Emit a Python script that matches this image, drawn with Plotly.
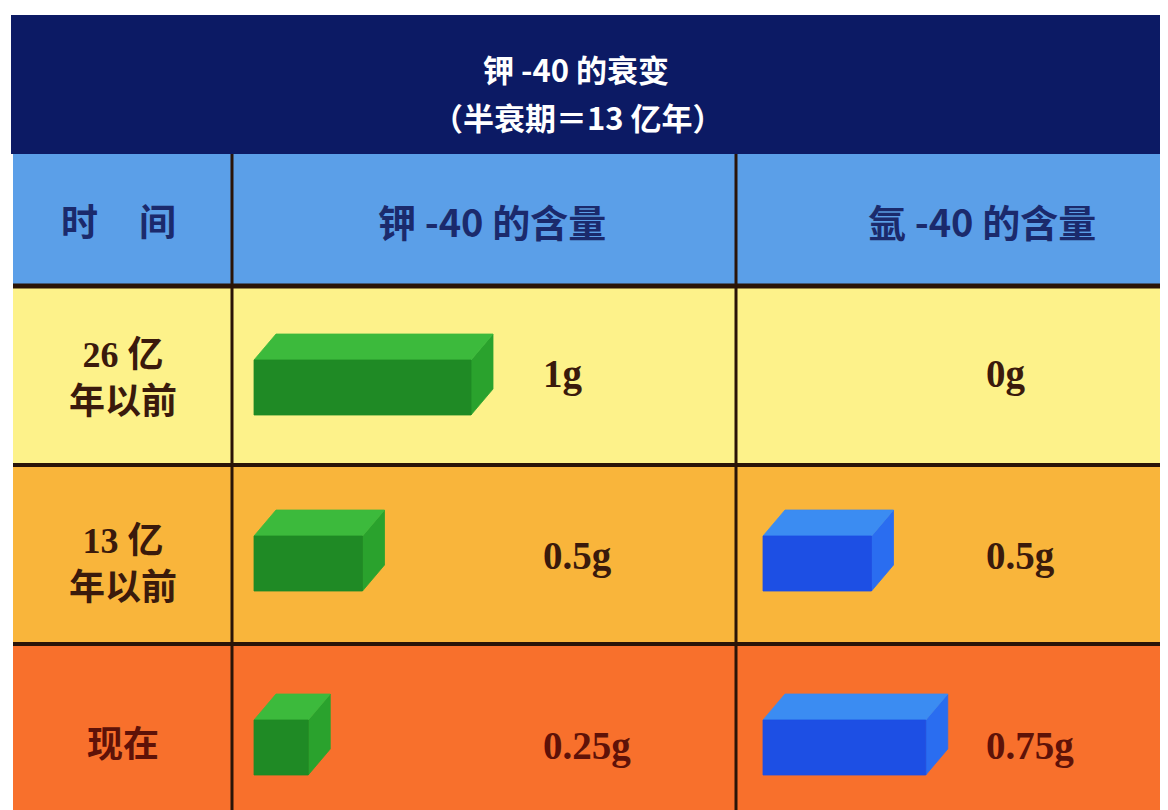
import plotly.graph_objects as go

# ---------------- data ----------------
time_labels = ["26 亿<br>年以前", "13 亿<br>年以前", "现在"]
potassium_g = [1, 0.5, 0.25]
argon_g = [0, 0.5, 0.75]
title_lines = ["钾 -40 的衰变", "（半衰期＝13 亿年）"]
col_headers = ["钾 -40 的含量", "氩 -40 的含量"]
time_header = ["时", "间"]

# ---------------- layout constants (pixel space of the picture) ----------------
W, H = 1168, 810
OFF = 8  # page body margin
X_LEFT = 13
X_COL1 = 232
X_COL2 = 736
TITLE_TOP, TITLE_BOT = 15, 154
HEAD_BOT = 285
ROW_BOUNDS = [(287, 464), (466, 643), (645, 812)]
ROW_COLORS = ["#fdf28a", "#f9b53b", "#f8702c"]
LINE_COL = "#2a1408"

PX_PER_GRAM = 217
BLOCK_H = 55
DX, DY = 22, 26
K_X0 = 254
AR_X0 = 763
BLOCK_BOTTOM = [415, 591, 775]
ROW_TEXT_Y = [378, 564, 745]
VAL_Y = [374, 556, 746]
K_LABEL_X = 541
AR_LABEL_X = 984

GREEN = dict(front="#1f8a25", top="#3cba3c", side="#2aa22d")
BLUE = dict(front="#1d4fe4", top="#3b8cf2", side="#2a6df0")
TEXT_COLS = ["#3a1a0c", "#3a1a0c", "#5e1208"]

fig = go.Figure()

shapes = []
# title band
shapes.append(dict(type="rect", x0=11, x1=W, y0=TITLE_TOP, y1=TITLE_BOT,
                   fillcolor="#0c1a64", line=dict(width=0), layer="below"))
# header band
shapes.append(dict(type="rect", x0=X_LEFT, x1=W, y0=TITLE_BOT, y1=HEAD_BOT,
                   fillcolor="#5b9fe8", line=dict(width=0), layer="below"))
# rows
for (y0, y1), c in zip(ROW_BOUNDS, ROW_COLORS):
    shapes.append(dict(type="rect", x0=X_LEFT, x1=W, y0=y0, y1=y1,
                       fillcolor=c, line=dict(width=0), layer="below"))
# horizontal separators
for yy, lw in [(HEAD_BOT + 1, 5), (465, 4), (644, 4)]:
    shapes.append(dict(type="line", x0=X_LEFT, x1=W, y0=yy, y1=yy,
                       line=dict(color=LINE_COL, width=lw), layer="below"))
# vertical separators
for xx in [X_COL1, X_COL2]:
    shapes.append(dict(type="line", x0=xx, x1=xx, y0=TITLE_BOT, y1=H,
                       line=dict(color=LINE_COL, width=3), layer="below"))


def add_block(x0, grams, yb, cols):
    if grams <= 0:
        return
    w = grams * PX_PER_GRAM
    yt = yb - BLOCK_H
    faces = [
        ("side", [x0 + w, x0 + w, x0 + w + DX, x0 + w + DX, x0 + w],
                 [yb, yt, yt - DY, yb - DY, yb]),
        ("top", [x0, x0 + DX, x0 + w + DX, x0 + w, x0],
                [yt, yt - DY, yt - DY, yt, yt]),
        ("front", [x0, x0 + w, x0 + w, x0, x0],
                  [yb, yb, yt, yt, yb]),
    ]
    for name, xs, ys in faces:
        fig.add_trace(go.Scatter(x=xs, y=ys, mode="lines", fill="toself",
                                 fillcolor=cols[name], line=dict(width=0.8, color=cols[name]),
                                 hoverinfo="skip", showlegend=False))


annotations = []
for i in range(len(time_labels)):
    add_block(K_X0, potassium_g[i], BLOCK_BOTTOM[i], GREEN)
    add_block(AR_X0, argon_g[i], BLOCK_BOTTOM[i], BLUE)
    annotations.append(dict(x=(X_LEFT + X_COL1) / 2, y=ROW_TEXT_Y[i],
                            text="<b>" + time_labels[i] + "</b>", showarrow=False,
                            font=dict(family="Liberation Serif, Noto Sans CJK SC", size=36,
                                      color=TEXT_COLS[i]),
                            xanchor="center", yanchor="middle"))
    for xv, v in [(K_LABEL_X, potassium_g[i]), (AR_LABEL_X, argon_g[i])]:
        annotations.append(dict(x=xv, y=VAL_Y[i], text="<b>%sg</b>" % format(v, "g"),
                                showarrow=False,
                                font=dict(family="Liberation Serif", size=39,
                                          color=TEXT_COLS[i]),
                                xanchor="left", yanchor="middle"))

# title lines
for txt, (tx, ty) in zip(title_lines, [(576, 68), (578, 116)]):
    annotations.append(dict(x=tx, y=ty, text="<b>" + txt + "</b>", showarrow=False,
                            font=dict(family="Noto Sans CJK SC", size=31, color="white"),
                            xanchor="center", yanchor="middle"))
# headers
for txt, tx in zip(time_header, [79, 157]):
    annotations.append(dict(x=tx, y=220, text="<b>" + txt + "</b>", showarrow=False,
                            font=dict(family="Noto Sans CJK SC", size=37, color="#1b2a6c"),
                            xanchor="center", yanchor="middle"))
for txt, tx in zip(col_headers, [492, 982]):
    annotations.append(dict(x=tx, y=220, text="<b>" + txt + "</b>", showarrow=False,
                            font=dict(family="Noto Sans CJK SC", size=38, color="#1b2a6c"),
                            xanchor="center", yanchor="middle"))

fig.update_layout(
    width=W - OFF, height=H - OFF,
    margin=dict(l=0, r=0, t=0, b=0),
    paper_bgcolor="white", plot_bgcolor="white",
    xaxis=dict(range=[OFF, W], visible=False, fixedrange=True),
    yaxis=dict(range=[H, OFF], visible=False, fixedrange=True),
    shapes=shapes, annotations=annotations, showlegend=False,
)

fig.write_html("out.html")
